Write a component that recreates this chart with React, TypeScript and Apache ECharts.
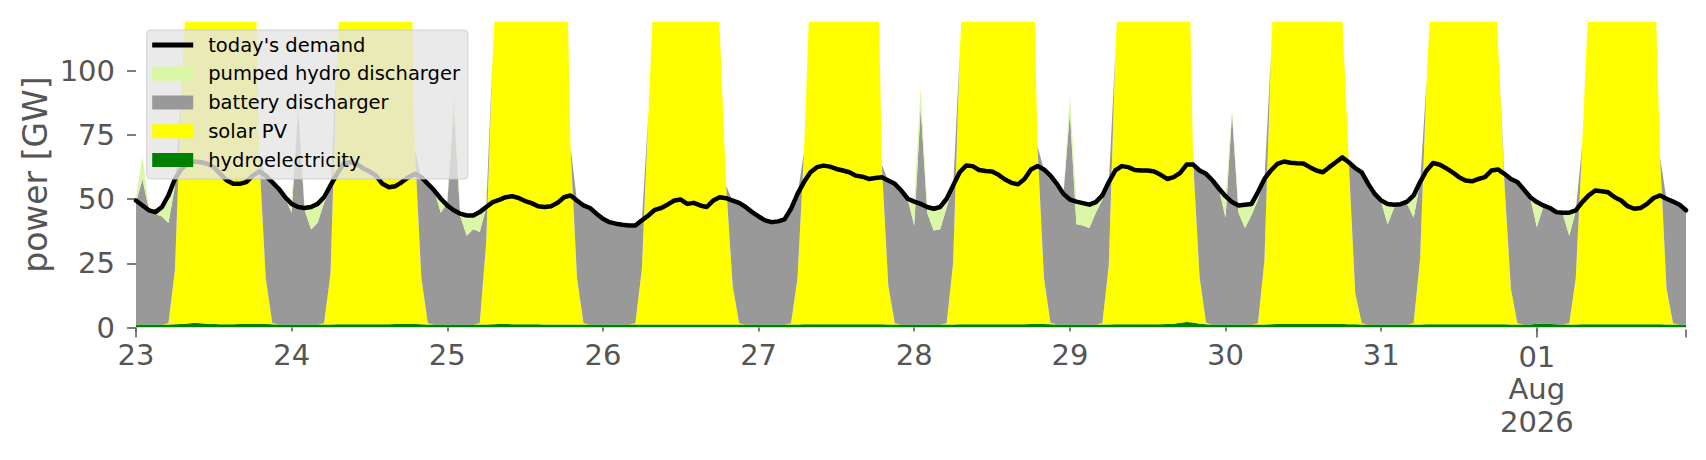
import React, { useEffect, useRef } from "react";
import * as echarts from "echarts";

// tick labels for each day start (hourly data from 23 Jul 00:00 to 1 Aug 23:00)
const dayLabels = ["23", "24", "25", "26", "27", "28", "29", "30", "31", "01\nAug\n2026"];
const dayNames = ["Jul 23", "Jul 24", "Jul 25", "Jul 26", "Jul 27", "Jul 28", "Jul 29", "Jul 30", "Jul 31", "Aug 01"];

const demand = [
  49.4, 47.5, 45.6, 44.9, 46.9, 51.4, 57.8, 61.7, 63.7, 64.6, 64.3, 63.7, 62.4, 59.8, 57.2, 55.9, 55.9, 56.6, 59.1, 60.7, 59.1, 56.6, 54.0, 50.7,
  48.1, 46.9, 46.5, 46.9, 48.1, 50.7, 55.3, 59.8, 63.7, 64.3, 63.7, 62.0, 60.7, 59.1, 55.9, 54.6, 55.0, 56.6, 58.5, 59.8, 58.5, 55.9, 53.3, 50.1,
  47.5, 45.6, 44.3, 43.6, 43.6, 44.9, 46.9, 48.8, 49.7, 50.7, 51.1, 50.4, 49.2, 48.4, 47.2, 46.9, 47.2, 48.5, 50.7, 51.4, 49.4, 47.5, 46.5, 44.3,
  42.3, 41.0, 40.4, 40.0, 39.7, 39.7, 41.7, 43.6, 45.8, 46.5, 47.9, 49.4, 49.8, 48.1, 48.5, 47.5, 46.9, 49.4, 50.7, 50.3, 49.4, 48.5, 46.9, 44.9,
  43.2, 41.7, 41.0, 41.3, 42.1, 46.2, 52.0, 56.6, 60.4, 62.4, 63.0, 62.6, 61.7, 61.1, 60.4, 59.1, 58.7, 57.8, 58.2, 58.5, 57.2, 55.9, 53.3, 50.1,
  49.0, 48.1, 46.9, 46.2, 46.9, 50.1, 55.3, 60.4, 63.0, 62.8, 61.3, 60.9, 60.7, 59.4, 57.6, 56.3, 55.7, 57.8, 61.5, 62.8, 61.5, 59.1, 55.9, 52.0,
  49.8, 49.0, 48.4, 47.8, 48.8, 51.4, 56.6, 61.1, 62.8, 62.4, 61.3, 61.1, 61.1, 60.7, 59.4, 57.8, 58.5, 60.2, 63.4, 63.4, 61.1, 59.8, 57.2, 54.0,
  51.1, 48.8, 47.5, 47.8, 48.1, 52.7, 57.8, 61.1, 63.7, 64.6, 64.1, 63.9, 63.8, 62.4, 61.1, 60.4, 62.4, 64.3, 66.2, 64.3, 62.0, 60.4, 55.9, 52.0,
  49.4, 48.1, 47.8, 48.0, 49.0, 51.4, 56.6, 61.1, 64.0, 63.4, 62.0, 60.4, 58.5, 57.2, 56.9, 57.8, 58.5, 61.1, 61.5, 59.8, 57.8, 56.6, 53.7, 50.7,
  48.8, 47.5, 46.5, 44.9, 44.7, 44.7, 45.6, 48.8, 51.4, 53.3, 53.0, 52.6, 50.7, 49.4, 47.2, 46.2, 46.5, 48.1, 50.4, 51.4, 50.1, 49.0, 47.8, 45.6,
];

const hydro = [
  1.2, 1.2, 1.2, 1.2, 1.2, 1.2, 1.3, 1.4, 1.6, 1.8, 1.7, 1.5, 1.4, 1.3, 1.3, 1.3, 1.4, 1.4, 1.5, 1.5, 1.4, 1.3, 1.2, 1.2,
  1.2, 1.2, 1.2, 1.2, 1.2, 1.2, 1.2, 1.3, 1.3, 1.3, 1.3, 1.3, 1.3, 1.3, 1.3, 1.3, 1.4, 1.4, 1.5, 1.4, 1.3, 1.2, 1.2, 1.2,
  1.2, 1.2, 1.2, 1.2, 1.2, 1.2, 1.2, 1.3, 1.4, 1.4, 1.3, 1.3, 1.3, 1.3, 1.3, 1.2, 1.2, 1.2, 1.2, 1.2, 1.2, 1.2, 1.2, 1.2,
  1.2, 1.2, 1.2, 1.2, 1.2, 1.2, 1.2, 1.2, 1.2, 1.2, 1.2, 1.2, 1.2, 1.2, 1.2, 1.2, 1.2, 1.2, 1.2, 1.2, 1.2, 1.2, 1.2, 1.2,
  1.2, 1.2, 1.2, 1.2, 1.2, 1.2, 1.2, 1.3, 1.3, 1.3, 1.3, 1.3, 1.3, 1.3, 1.3, 1.3, 1.3, 1.3, 1.3, 1.3, 1.2, 1.2, 1.2, 1.2,
  1.2, 1.2, 1.2, 1.2, 1.2, 1.2, 1.2, 1.3, 1.3, 1.3, 1.3, 1.3, 1.3, 1.3, 1.3, 1.3, 1.3, 1.3, 1.4, 1.5, 1.4, 1.3, 1.2, 1.2,
  1.2, 1.2, 1.2, 1.2, 1.2, 1.2, 1.2, 1.3, 1.3, 1.3, 1.3, 1.3, 1.3, 1.3, 1.3, 1.4, 1.5, 1.8, 2.1, 1.9, 1.5, 1.3, 1.2, 1.2,
  1.2, 1.2, 1.2, 1.2, 1.2, 1.2, 1.2, 1.3, 1.4, 1.4, 1.4, 1.4, 1.4, 1.4, 1.4, 1.4, 1.4, 1.4, 1.4, 1.3, 1.3, 1.2, 1.2, 1.2,
  1.2, 1.2, 1.2, 1.2, 1.2, 1.2, 1.2, 1.3, 1.3, 1.3, 1.3, 1.3, 1.3, 1.3, 1.3, 1.3, 1.3, 1.3, 1.3, 1.3, 1.2, 1.2, 1.2, 1.2,
  1.5, 1.6, 1.4, 1.3, 1.2, 1.2, 1.2, 1.3, 1.3, 1.3, 1.3, 1.3, 1.3, 1.3, 1.3, 1.3, 1.3, 1.3, 1.3, 1.3, 1.2, 1.2, 1.2, 1.2,
];

const solarPV = [
  0, 0, 0, 0, 0, 0.5, 21, 90, 143, 190, 220, 235, 240, 238, 230, 220, 210, 200, 190, 65, 18, 0.5, 0, 0,
  0, 0, 0, 0, 0, 0.5, 20, 105, 152, 195, 225, 240, 245, 242, 235, 225, 215, 205, 195, 68, 18, 0.5, 0, 0,
  0, 0, 0, 0, 0, 0.5, 32, 105, 152, 195, 225, 240, 245, 242, 235, 225, 215, 205, 195, 69, 18, 0.5, 0, 0,
  0, 0, 0, 0, 0, 0.5, 21.6, 82, 139, 185, 215, 230, 235, 232, 225, 215, 205, 190, 115, 54, 15, 0.5, 0, 0,
  0, 0, 0, 0, 0, 0.5, 18, 67, 136, 185, 215, 230, 235, 232, 225, 215, 205, 200, 196, 62, 15, 0.5, 0, 0,
  0, 0, 0, 0, 0, 0.5, 24, 105, 155, 195, 225, 240, 245, 242, 235, 225, 215, 205, 190, 69, 18, 0.5, 0, 0,
  0, 0, 0, 0, 0, 0.5, 23, 105, 160, 200, 228, 242, 246, 243, 236, 226, 215, 205, 190, 63, 18, 0.5, 0, 0,
  0, 0, 0, 0, 0, 0.5, 25, 105, 160, 200, 228, 242, 246, 243, 236, 226, 215, 200, 120, 63, 12, 0.5, 0, 0,
  0, 0, 0, 0, 0, 0.5, 25.5, 95, 143, 190, 220, 235, 240, 238, 230, 220, 210, 200, 110, 55, 14, 0.5, 0, 0,
  0, 0, 0, 0, 0, 0.5, 18, 70, 128, 180, 210, 225, 230, 228, 220, 210, 195, 175, 155, 65, 14, 0.5, 0, 0,
];

const battery = [
  47.5, 56.5, 44.5, 43, 42, 39, 32.5, 0, 0, 0, 0, 0, 0, 0, 0, 0, 0, 0, 0, 0, 39.6, 54.6, 52.5, 49.2,
  43.5, 84.5, 44.5, 36.9, 39.5, 46.8, 32.5, 0, 0, 0, 0, 0, 0, 0, 0, 0, 0, 0, 0, 0, 39, 53.9, 51.8, 43.5,
  47.3, 84.5, 42.1, 34.5, 37, 35.5, 13.5, 0, 0, 0, 0, 0, 0, 0, 0, 0, 0, 0, 0, 0, 29.9, 45.5, 45, 42.8,
  40.8, 39.5, 38.9, 38.5, 38.2, 37.7, 18.6, 0, 0, 0, 0, 0, 0, 0, 0, 0, 0, 0, 0, 0, 32.9, 46.5, 45.4, 43.4,
  41.7, 40.2, 39.5, 39.8, 40.6, 44.2, 32.5, 0, 0, 0, 0, 0, 0, 0, 0, 0, 0, 0, 0, 0, 40.7, 53.9, 51.8, 48.6,
  38.5, 84.5, 43.5, 36.5, 37, 45, 29.5, 0, 0, 0, 0, 0, 0, 0, 0, 0, 0, 0, 0, 0, 42, 57.1, 54.4, 50.5,
  82.5, 39, 38.5, 37.5, 43.5, 48, 32, 0, 0, 0, 0, 0, 0, 0, 0, 0, 0, 0, 0, 0, 41.6, 57.8, 55.7, 52.5,
  41.5, 82, 43.5, 37.5, 42.5, 48, 31.3, 0, 0, 0, 0, 0, 0, 0, 0, 0, 0, 0, 0, 0, 48.5, 58.4, 54.4, 50.5,
  47.5, 39, 45.5, 46.5, 47, 41, 29.6, 0, 0, 0, 0, 0, 0, 0, 0, 0, 0, 0, 0, 3.3, 42.3, 54.6, 52.2, 49.2,
  37.5, 45.5, 44.5, 43.4, 43, 34, 26.1, 0, 0, 0, 0, 0, 0, 0, 0, 0, 0, 0, 0, 0, 34.6, 47, 46.3, 44.1,
];

const pumpedHydro = [
  2, 9, 1, 1, 3.5, 8, 2.5, 0, 0, 0, 0, 0, 0, 0, 0, 0, 0, 0, 0, 0, 0, 0, 0, 0,
  5, 3, 1, 8.1, 7, 1.7, 2, 0, 0, 0, 0, 0, 0, 0, 0, 0, 0, 0, 0, 0, 0, 0, 0, 5.5,
  0.7, 7, 1.4, 6.5, 5, 7.5, 1, 0, 0, 0, 0, 0, 0, 0, 0, 0, 0, 0, 0, 0, 0, 0, 0, 0,
  0, 0, 0, 0, 0, 0, 0, 0, 0, 0, 0, 0, 0, 0, 0, 0, 0, 0, 0, 0, 0, 0, 0, 0,
  0, 0, 0, 0, 0, 0, 0, 0, 0, 0, 0, 0, 0, 0, 0, 0, 0, 0, 0, 0, 0, 0, 0, 0.4,
  9, 8, 2, 8.5, 8.5, 3, 0.5, 0, 0, 0, 0, 0, 0, 0, 0, 0, 0, 0, 0, 0, 0, 0, 0, 0,
  7, 8.5, 8.4, 8.8, 3.8, 1.4, 0, 0, 0, 0, 0, 0, 0, 0, 0, 0, 0, 0, 0, 0, 0, 0, 0, 0,
  8, 1.5, 2.5, 8.8, 4, 2.7, 0, 0, 0, 0, 0, 0, 0, 0, 0, 0, 0, 0, 0, 0, 0, 0, 0, 0,
  0.4, 7.5, 0.8, 0, 0.5, 8.4, 0, 0, 0, 0, 0, 0, 0, 0, 0, 0, 0, 0, 0, 0, 0, 0, 0, 0,
  9.8, 0.5, 0.5, 0, 0.2, 8.7, 0, 0, 0, 0, 0, 0, 0, 0, 0, 0, 0, 0, 0, 0, 0, 0, 0, 0,
];

const yTicks = [0, 25, 50, 75, 100];

const hours: string[] = [];
dayNames.forEach((d) => {
  for (let h = 0; h < 24; h++) hours.push(`${d} ${String(h).padStart(2, "0")}:00`);
});

const FONT = "DejaVu Sans";
const TICK = "#555555";

export default function App() {
  const ref = useRef<HTMLDivElement>(null);
  useEffect(() => {
    document.body.style.margin = "0";
    if (!ref.current) return;
    const chart = echarts.init(ref.current, undefined, { renderer: "svg" });
    const area = (name: string, data: number[], color: string) => ({
      name,
      type: "line",
      stack: "total",
      data,
      xAxisIndex: 0,
      yAxisIndex: 0,
      symbol: "none",
      color,
      lineStyle: { width: 0, color },
      itemStyle: { color },
      areaStyle: { color, opacity: 1 },
      emphasis: { disabled: true },
      z: 2,
    });
    const lastDay = dayLabels.length - 1;
    chart.setOption({
      animation: false,
      textStyle: { fontFamily: FONT },
      grid: [
        { left: 136, right: 20, top: 21.7, bottom: 132.5, outerBoundsMode: "none" },
        { left: 136, right: 20, top: 70.5, bottom: 132.5, outerBoundsMode: "none" },
      ],
      xAxis: [
        {
          type: "category",
          gridIndex: 0,
          data: hours,
          boundaryGap: false,
          position: "bottom",
          offset: 2,
          axisLine: { show: false },
          splitLine: { show: false },
          axisTick: {
            show: true,
            interval: (i: number) => i % 24 === 0,
            length: 4,
            lineStyle: { color: TICK, width: 1.5 },
          },
          axisLabel: {
            interval: (i: number) => i % 24 === 0,
            formatter: (_v: string, i: number) => {
              if (i % 24 !== 0) return "";
              const d = i / 24;
              return d === lastDay ? `{m|${dayLabels[d]}}` : dayLabels[d];
            },
            fontSize: 29,
            lineHeight: 33,
            margin: 9,
            color: TICK,
            fontFamily: FONT,
            rich: {
              m: { fontSize: 29, lineHeight: 32.5, color: TICK, fontFamily: FONT, padding: [4, 0, 0, 0] },
            },
          },
        },
        {
          type: "category",
          gridIndex: 0,
          data: hours,
          boundaryGap: false,
          position: "bottom",
          offset: 2,
          axisLine: { show: false },
          splitLine: { show: false },
          axisLabel: { show: false },
          axisTick: {
            show: true,
            interval: (i: number) => i === 0 || i === 216 || i === 239,
            length: 8,
            lineStyle: { color: TICK, width: 1.5 },
          },
        },
        { type: "category", gridIndex: 1, data: hours, boundaryGap: false, show: false },
      ],
      yAxis: [
        {
          type: "value",
          gridIndex: 0,
          min: 0,
          max: 119,
          axisLine: { show: false },
          axisTick: { show: false },
          axisLabel: { show: false },
          splitLine: { show: false },
          name: "power [GW]",
          nameLocation: "middle",
          nameGap: 84,
          nameTextStyle: { fontSize: 33, color: TICK, fontFamily: FONT },
        },
        {
          type: "value",
          gridIndex: 1,
          min: yTicks[0],
          max: yTicks[yTicks.length - 1],
          interval: 25,
          axisLine: { show: false },
          splitLine: { show: false },
          axisTick: { show: true, length: 9, lineStyle: { color: TICK, width: 1.5 } },
          axisLabel: { fontSize: 29, color: TICK, margin: 21, fontFamily: FONT },
        },
      ],
      legend: {
        orient: "vertical",
        left: 146.7,
        top: 30,
        z: 10,
        padding: [4, 8, 8, 5.5],
        itemWidth: 41,
        itemHeight: 14,
        itemGap: 6.75,
        backgroundColor: "rgba(229,229,229,0.8)",
        borderColor: "rgba(200,200,200,0.8)",
        borderWidth: 1,
        borderRadius: 4,
        selectedMode: false,
        textStyle: { fontSize: 19.5, color: "#000", fontFamily: FONT, lineHeight: 22, padding: [0, 0, 0, 10] },
        data: [
          { name: "today's demand", icon: "path://M0 0H43V5H0Z", itemStyle: { color: "#000" } },
          { name: "pumped hydro discharger", icon: "rect" },
          { name: "battery discharger", icon: "rect" },
          { name: "solar PV", icon: "rect" },
          { name: "hydroelectricity", icon: "rect" },
        ],
      },
      series: [
        area("hydroelectricity", hydro, "#008000"),
        area("solar PV", solarPV, "#ffff00"),
        area("battery discharger", battery, "#999999"),
        area("pumped hydro discharger", pumpedHydro, "#daf7a6"),
        {
          name: "today's demand",
          type: "line",
          data: demand,
          xAxisIndex: 0,
          yAxisIndex: 0,
          symbol: "none",
          color: "#000",
          lineStyle: { color: "#000", width: 4.5, cap: "round", join: "round" },
          emphasis: { disabled: true },
          z: 3,
        },
      ],
    });
    return () => chart.dispose();
  }, []);
  return <div ref={ref} style={{ width: 1706, height: 460 }} />;
}
